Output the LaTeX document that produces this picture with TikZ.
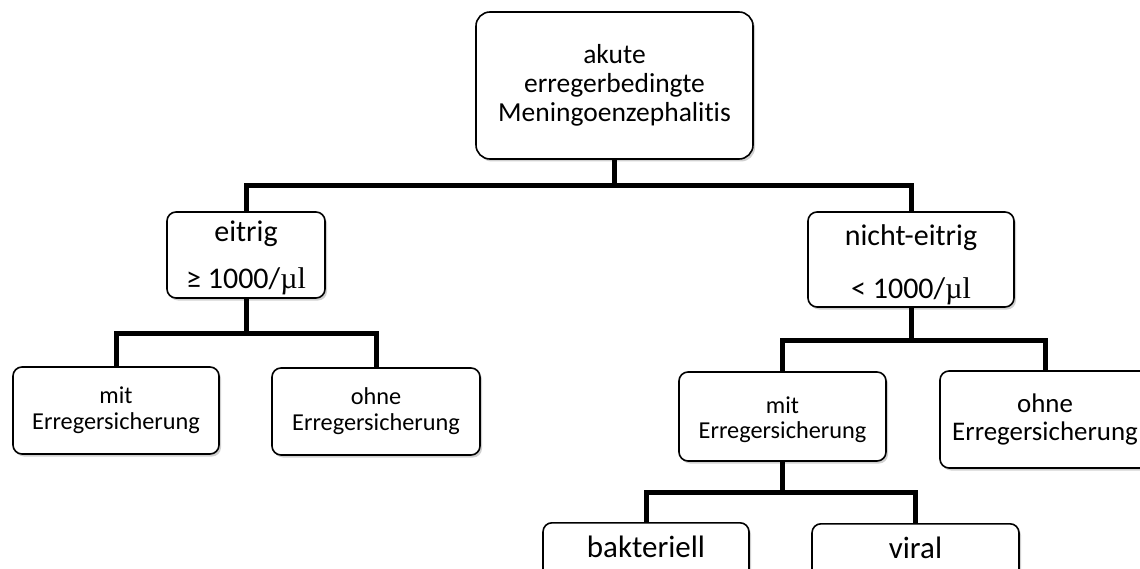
\documentclass[tikz,border=0pt]{standalone}
\usepackage{fontspec}
\setmainfont{Carlito}[Ligatures=CommonOff]
\newfontfamily\mufont{Liberation Serif}
\usetikzlibrary{calc,shadows}
\newcommand{\mul}{{\mufont µl}}

\begin{document}
\begin{tikzpicture}[
  x=1pt,y=-1pt,
  every node/.style={align=center},
  flowbox/.style={draw,rounded corners=9pt,line width=1.6pt,fill=white,inner sep=2pt,
    drop shadow={shadow xshift=2pt,shadow yshift=-2.5pt,opacity=0.3,fill=black!60}},
  link/.style={line width=5pt}
]
\useasboundingbox (0,0) rectangle (1140,569);
\fill[white] (0,0) rectangle (1140,569);
% top
\node[flowbox,minimum width=277pt,minimum height=147pt,rounded corners=14pt,
  font=\fontsize{27.5}{29}\selectfont] (root) at (614.5,85.5)
  {akute\\erregerbedingte\\Meningoenzephalitis};
% second level
\node[flowbox,minimum width=158pt,minimum height=86pt,font=\fontsize{30}{36}\selectfont]
  (pur) at (246,255) {\rule{0pt}{26pt}eitrig\\[11pt]≥ 1000/\mul};
\node[flowbox,minimum width=206pt,minimum height=95pt,font=\fontsize{30}{36}\selectfont]
  (nonpur) at (911,259.5) {\rule{0pt}{31pt}nicht-eitrig\\[17pt]< 1000/\mul};
% third level
\node[flowbox,minimum width=206pt,minimum height=87pt,font=\fontsize{24.3}{26}\selectfont]
  (purmit) at (116,410.5) {mit\\Erregersicherung};
\node[flowbox,minimum width=208pt,minimum height=87pt,font=\fontsize{24.3}{26}\selectfont]
  (purohne) at (376,411.5) {ohne\\Erregersicherung};
\node[flowbox,minimum width=207pt,minimum height=89pt,font=\fontsize{24.3}{25}\selectfont]
  (nonpurmit) at (782.5,416.5) {\rule{0pt}{24pt}mit\\Erregersicherung};
\node[flowbox,minimum width=210pt,minimum height=97pt,font=\fontsize{26.9}{28}\selectfont]
  (nonpurohne) at (1045,419.5) {ohne\\Erregersicherung};
% bottom level
\node[flowbox,anchor=north,minimum width=206pt,text height=33pt,text depth=60pt,
  font=\fontsize{31}{36}\selectfont] (bakt) at (646,522) {bakteriell};
\node[flowbox,anchor=north,minimum width=207pt,text height=33pt,text depth=60pt,
  font=\fontsize{31}{36}\selectfont] (viral) at (915.5,523) {viral};
% connectors
\draw[link] (root.south) -- ++(0,26) coordinate (fork1);
\draw[link] (pur.north) |- (fork1) -| (nonpur.north);
\draw[link] (pur.south) -- ++(0,35) coordinate (fork2);
\draw[link] (purmit.north) |- (fork2) -| (purohne.north);
\draw[link] (nonpur.south) -- ++(0,33) coordinate (fork3);
\draw[link] (nonpurmit.north) |- (fork3) -| (nonpurohne.north);
\draw[link] (nonpurmit.south) -- ++(0,31) coordinate (fork4);
\draw[link] (bakt.north) |- (fork4) -| (viral.north);
\end{tikzpicture}
\end{document}
